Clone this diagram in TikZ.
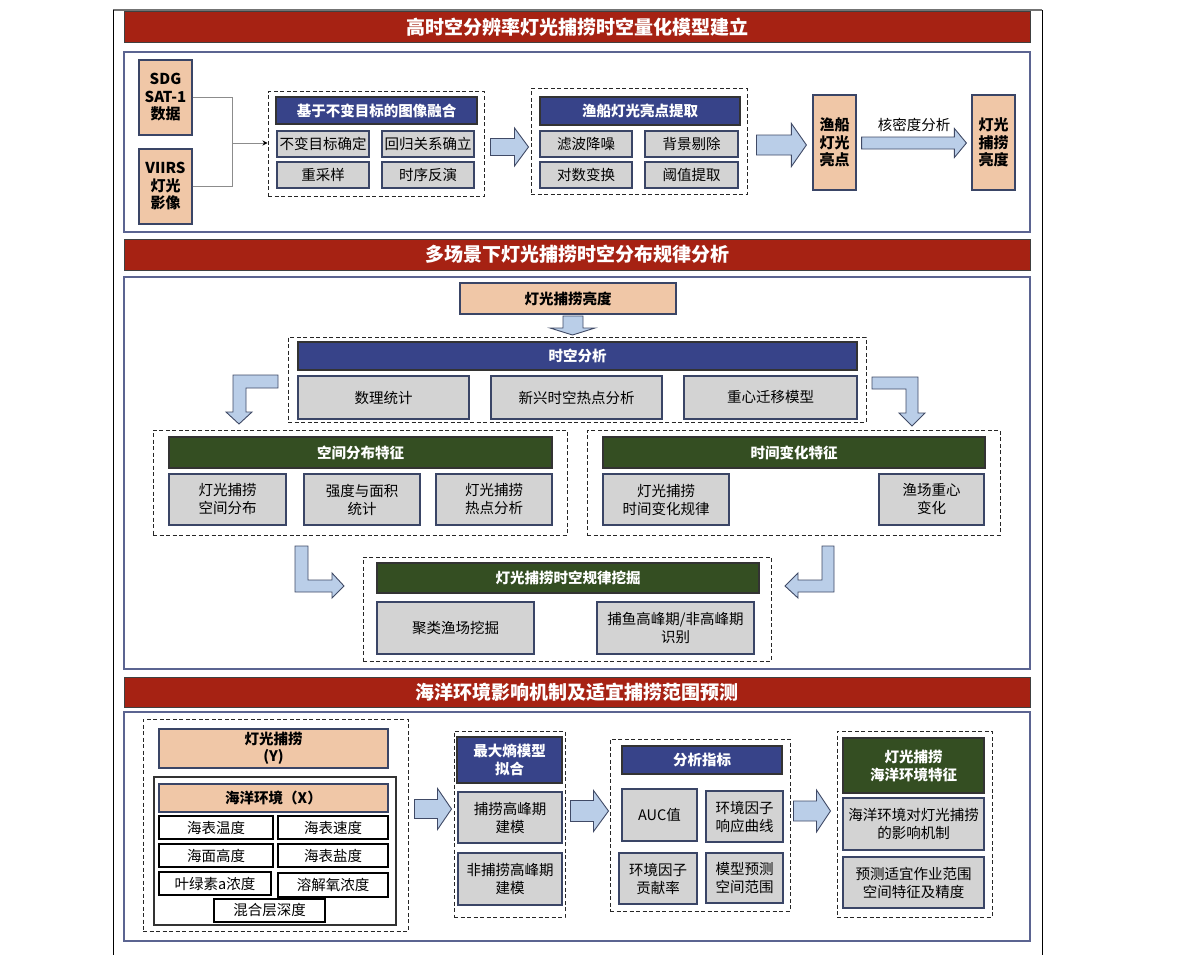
\documentclass[tikz,border=0pt]{standalone}
\usepackage{fontspec}
\setmainfont{Noto Sans CJK SC}
\usetikzlibrary{arrows.meta, calc}
\definecolor{secred}{HTML}{A62213}
\definecolor{secline}{HTML}{5B6491}
\definecolor{peachfill}{HTML}{F0C7A7}
\definecolor{headblue}{HTML}{374389}
\definecolor{headgreen}{HTML}{344E22}
\definecolor{boxgray}{HTML}{D3D3D3}
\definecolor{boxline}{HTML}{3A4566}
\definecolor{arrowfill}{HTML}{BACEE8}
\definecolor{arrowline}{HTML}{404A66}
\tikzset{
  titlebar/.style={draw=black!75, fill=secred, line width=1pt, inner sep=0pt, text=white, font=\fontsize{19}{22}\selectfont\bfseries},
  secbox/.style={draw=secline, line width=1.3pt, inner sep=0pt},
  grp/.style={draw=black!85, line width=1pt, dash pattern=on 4pt off 2.5pt, inner sep=0pt},
  peach/.style={draw=boxline, fill=peachfill, line width=1.2pt, inner sep=0pt, align=center, font=\fontsize{14.5}{17.5}\selectfont\bfseries},
  peachtall/.style={peach, font=\fontsize{15}{17.5}\selectfont\bfseries},
  bluehead/.style={draw=black!80, fill=headblue, line width=1.2pt, inner sep=0pt, align=center, text=white, font=\fontsize{14.5}{18}\selectfont\bfseries},
  greenhead/.style={bluehead, fill=headgreen},
  graybox/.style={draw=boxline, fill=boxgray, line width=1.2pt, inner sep=0pt, align=center, font=\fontsize{14.5}{18}\selectfont},
  whitebox/.style={graybox, draw=black, fill=white},
  framebox/.style={draw=black!80, line width=1.3pt, inner sep=0pt},
  barrow/.style={draw=arrowline, fill=arrowfill, line width=0.9pt, line join=miter},
  feed/.style={draw=black!45, line width=0.8pt}
}
% box from its pixel corners: style, name, x1, y1, x2, y2, text
\newcommand{\pxnode}[7]{%
  \node[#1, minimum width={#5-#3}, minimum height={#6-#4}] (#2) at ({(#3+#5)/2},{(#4+#6)/2}) {#7};
}
% block arrow to the right: tail, tip, shaft half, head half, head length
\newcommand{\fatarrow}[5]{%
  \draw[barrow] let \p1=#1, \p2=#2 in
    (\x1,\y1+#3pt) -- (\x2-#5pt,\y1+#3pt) -- (\x2-#5pt,\y1+#4pt) -- (\x2,\y1)
    -- (\x2-#5pt,\y1-#4pt) -- (\x2-#5pt,\y1-#3pt) -- (\x1,\y1-#3pt) -- cycle;
}

\begin{document}
\begin{tikzpicture}[x=1pt, y=-1pt]
  \fill[white] (0,0) rectangle (1177,955);
  \useasboundingbox (0,0) rectangle (1177,955);

  % Page frame
  \draw[black!55, line width=2pt] (113,10) -- (1042,10);
  \draw[black, line width=1pt] (113,10) -- (113,955);
  \draw[black, line width=1pt] (1042,10) -- (1042,955);

  % Part 1
  \pxnode{titlebar}{title1}{124}{12}{1030}{43}{高时空分辨率灯光捕捞时空量化模型建立}
  \pxnode{secbox}{sec1}{124}{52}{1030}{232}{}
  \pxnode{peachtall}{sdg}{139}{60}{192}{135}{SDG\\SAT-1\\数据}
  \pxnode{peachtall}{viirs}{139}{149}{192}{224}{VIIRS\\灯光\\影像}

  \pxnode{grp}{fuseg}{268}{92}{484}{196}{}
  \pxnode{bluehead}{fusehead}{276}{97}{477}{124}{基于不变目标的图像融合}
  \pxnode{graybox}{invar}{277}{131}{369}{157}{不变目标确定}
  \pxnode{graybox}{regress}{382}{131}{474}{157}{回归关系确立}
  \pxnode{graybox}{resamp}{277}{162}{369}{188}{重采样}
  \pxnode{graybox}{invert}{382}{162}{474}{188}{时序反演}

  \pxnode{grp}{spotg}{531}{89}{747}{194}{}
  \pxnode{bluehead}{spothead}{540}{97}{740}{125}{渔船灯光亮点提取}
  \pxnode{graybox}{filter}{540}{131}{632}{157}{滤波降噪}
  \pxnode{graybox}{backg}{645}{131}{738}{157}{背景剔除}
  \pxnode{graybox}{logt}{540}{162}{632}{188}{对数变换}
  \pxnode{graybox}{thresh}{645}{162}{738}{188}{阈值提取}

  \pxnode{peachtall}{spots}{813}{95}{856}{190}{渔船\\灯光\\亮点}
  \pxnode{peachtall}{bright}{972}{95}{1015}{190}{灯光\\捕捞\\亮度}

  \coordinate (join) at (232,143);
  \draw[feed] (sdg.east) -| (join);
  \draw[feed] (viirs.east) -| (join);
  \draw[feed, -{Stealth[length=5pt, width=5pt, black]}] (join) -- (join -| fuseg.west);

  \fatarrow{($(fuseg.east)+(6,3)$)}{($(spotg.west)+(-2,3)$)}{8.5}{19}{14}
  \fatarrow{($(spotg.east)+(9,3.5)$)}{($(spots.west)+(-6,0)$)}{10}{21.5}{15}
  \fatarrow{($(spots.east)+(5,0.5)$)}{($(bright.west)+(-5,0)$)}{6}{14.5}{12}
  \node[font=\fontsize{14.5}{17}\selectfont] (kde) at ($(spots.east)!0.5!(bright.west)+(0,-18)$) {核密度分析};

  % Part 2
  \pxnode{titlebar}{title2}{124}{239}{1030}{270}{多场景下灯光捕捞时空分布规律分析}
  \pxnode{secbox}{sec2}{124}{277}{1030}{669}{}
  \pxnode{peach}{lightb}{460}{283}{676}{314}{灯光捕捞亮度}

  \pxnode{grp}{stg}{288}{337}{866}{422}{}
  \pxnode{bluehead}{sthead}{298}{342}{857}{370}{时空分析}
  \pxnode{graybox}{mstat}{298}{376}{469}{419}{数理统计}
  \pxnode{graybox}{hotspot}{491}{376}{662}{419}{新兴时空热点分析}
  \pxnode{graybox}{centroid}{684}{376}{857}{419}{重心迁移模型}

  \pxnode{grp}{spg}{153}{430}{567}{535}{}
  \pxnode{greenhead}{sphead}{169}{437}{552}{468}{空间分布特征}
  \pxnode{graybox}{spdist}{169}{474}{286}{525}{灯光捕捞\\空间分布}
  \pxnode{graybox}{intens}{304}{474}{420}{525}{强度与面积\\统计}
  \pxnode{graybox}{sphot}{436}{474}{552}{525}{灯光捕捞\\热点分析}

  \pxnode{grp}{tmg}{587}{430}{1000}{535}{}
  \pxnode{greenhead}{tmhead}{603}{437}{985}{468}{时间变化特征}
  \pxnode{graybox}{tmvar}{603}{474}{729}{525}{灯光捕捞\\时间变化规律}
  \pxnode{graybox}{fshift}{879}{474}{984}{525}{渔场重心\\变化}

  \pxnode{grp}{ming}{363}{557}{771}{661}{}
  \pxnode{greenhead}{minhead}{377}{563}{759}{593}{灯光捕捞时空规律挖掘}
  \pxnode{graybox}{cluster}{377}{602}{534}{654}{聚类渔场挖掘}
  \pxnode{graybox}{peak}{597}{602}{754}{654}{捕鱼高峰期/非高峰期\\识别}

  % bent block arrows (drawn as shapes)
  \draw[barrow] (563,316) -- (583,316) -- (583,328) -- (595,328) -- (572.5,335) -- (550,328) -- (563,328) -- cycle;
  \draw[barrow] (278,375) -- (233,375) -- (233,412) -- (226,412) -- (239,424) -- (252,412) -- (246,412) -- (246,388) -- (278,388) -- cycle;
  \draw[barrow] (872,377) -- (918,377) -- (918,413) -- (925,413) -- (912,426) -- (899,413) -- (906,413) -- (906,389) -- (872,389) -- cycle;
  \draw[barrow] (295,546) -- (308,546) -- (308,580) -- (332,580) -- (332,573) -- (344,586) -- (332,598) -- (332,592) -- (295,592) -- cycle;
  \draw[barrow] (834,546) -- (822,546) -- (822,580) -- (798,580) -- (798,573) -- (785,586) -- (798,598) -- (798,592) -- (834,592) -- cycle;

  % Part 3
  \pxnode{titlebar}{title3}{124}{677}{1030}{707}{海洋环境影响机制及适宜捕捞范围预测}
  \pxnode{secbox}{sec3}{124}{712}{1030}{941}{}

  \pxnode{grp}{varg}{143}{719}{408}{931}{}
  \pxnode{peach}{ybox}{159}{729}{388}{768}{灯光捕捞\\(Y)}
  \pxnode{framebox}{envframe}{154}{777}{396}{925}{}
  \pxnode{peach}{xbox}{159}{784}{388}{812}{海洋环境（X）}
  \pxnode{whitebox}{sst}{159}{816}{273}{839}{海表温度}
  \pxnode{whitebox}{ssv}{278}{816}{388}{839}{海表速度}
  \pxnode{whitebox}{ssh}{159}{844}{273}{867}{海面高度}
  \pxnode{whitebox}{sss}{278}{844}{388}{867}{海表盐度}
  \pxnode{whitebox}{chl}{159}{872}{271}{895}{叶绿素a浓度}
  \pxnode{whitebox}{dox}{278}{873}{388}{897}{溶解氧浓度}
  \pxnode{whitebox}{mld}{214}{899}{325}{922}{混合层深度}

  \pxnode{grp}{maxg}{454}{731}{565}{917}{}
  \pxnode{bluehead}{maxhead}{457}{737}{562}{783}{最大熵模型\\拟合}
  \pxnode{graybox}{peakm}{458}{792}{562}{843}{捕捞高峰期\\建模}
  \pxnode{graybox}{offm}{458}{853}{562}{905}{非捕捞高峰期\\建模}

  \pxnode{grp}{idxg}{610}{739}{790}{911}{}
  \pxnode{bluehead}{idxhead}{622}{746}{782}{774}{分析指标}
  \pxnode{graybox}{auc}{622}{789}{697}{841}{AUC值}
  \pxnode{graybox}{resp}{706}{791}{783}{842}{环境因子\\响应曲线}
  \pxnode{graybox}{contrib}{619}{853}{697}{904}{环境因子\\贡献率}
  \pxnode{graybox}{predsp}{706}{853}{783}{903}{模型预测\\空间范围}

  \pxnode{grp}{featg}{837}{731}{992}{917}{}
  \pxnode{greenhead}{feathead}{843}{738}{984}{793}{灯光捕捞\\海洋环境特征}
  \pxnode{graybox}{mech}{843}{798}{984}{850}{海洋环境对灯光捕捞\\的影响机制}
  \pxnode{graybox}{suit}{843}{857}{984}{908}{预测适宜作业范围\\空间特征及精度}

  \fatarrow{($(varg.east)+(6,-16)$)}{($(maxg.west)+(-2,0)$)}{9.5}{20.5}{14}
  \fatarrow{($(maxg.east)+(5,-13)$)}{($(idxg.west)+(-1,0)$)}{10.5}{20.5}{15}
  \fatarrow{($(idxg.east)+(3,-14)$)}{($(featg.west)+(-6,0)$)}{10}{21}{14}
\end{tikzpicture}
\end{document}
